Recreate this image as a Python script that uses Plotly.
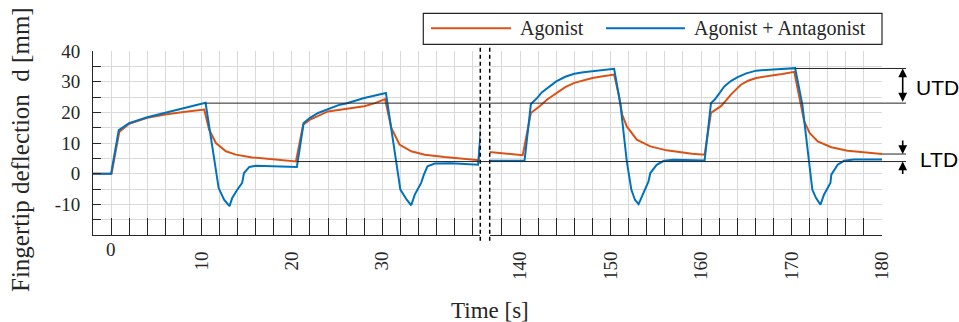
import plotly.graph_objects as go

# ---------------- data ----------------
agonist_t = [-2, 0.05, 0.9, 2, 4, 6, 8, 10.3, 10.85, 11.6, 12.7, 13.8, 15.6, 17.8, 20.45,
             21.25, 22, 24, 26, 28, 29.2, 30.3, 31, 31.9, 33.2, 34.7, 36.9, 39.1, 40.65, 41.0,
             136.5, 140.3, 141.2, 141.7, 142.3, 143, 144, 145, 146, 147, 148, 149, 150.4, 150.9,
             151.3, 151.8, 152.9, 154.4, 156.2, 159, 160.4, 161.1, 161.6, 162.2, 162.8, 163.3,
             164.4, 165.2, 166.1, 167, 168, 169, 170.3, 171.4, 172, 172.9, 174.4, 176.2, 180]
agonist_d = [0, 0, 13.6, 16.3, 18.2, 19.3, 20.1, 20.9, 14.3, 10.0, 7.3, 6.2, 5.3, 4.7, 4.0,
             16.0, 17.6, 20.3, 21.1, 22.0, 23.0, 24.3, 14.9, 9.5, 7.3, 6.2, 5.4, 4.9, 4.4, 15.5,
             7.1, 6.0, 19.8, 20.9, 22.3, 24.2, 26.3, 28.2, 29.6, 30.5, 31.2, 31.7, 32.3, 25.8,
             19.2, 15.4, 11.1, 8.9, 7.6, 6.5, 6.2, 19.8, 20.8, 22.0, 24.0, 25.8,
             29.0, 30.3, 31.2, 31.7, 32.1, 32.5, 33.2, 17.1, 13.3, 10.5, 8.6, 7.5, 6.4]

combined_t = [-2, 0, 0.85, 2, 4, 6, 8, 10.45, 11.9, 12.5, 13.1, 13.4, 13.9, 14.5, 14.7, 15.3,
              16, 20.55, 21.3, 22, 22.9, 24, 25.3, 26, 28, 30.4, 32, 32.7, 33.2, 33.6, 34.3,
              34.6, 35, 35.8, 37.6, 40.6, 40.95,
              136.5, 140.5, 141.2, 141.9, 142.4, 143, 143.5, 144, 145, 146, 147, 148, 150.4,
              151.1, 151.8, 152.3, 152.7, 153.1, 153.7, 154.2, 154.4, 155.1, 155.9, 157, 160.4,
              161.1, 161.5, 162.1, 162.6, 163.3, 164, 165, 166.1, 168, 170.4, 171.2, 171.8,
              172.3, 172.7, 173.2, 173.6, 174.3, 174.4, 175.1, 175.8, 176.9, 180]
combined_d = [0, 0, 14.2, 16.5, 18.4, 19.8, 21.2, 23.1, -4.7, -8.5, -10.6, -7.9, -5.5, -3.0, 0.2, 2.2,
              2.6, 2.2, 16.5, 18.2, 19.8, 21.1, 22.5, 22.9, 24.7, 26.3, -5.2, -8.5, -10.3, -6.8, -3.0,
              -0.3, 2.4, 3.3, 3.4, 2.9, 16.5,
              4.2, 4.2, 22.7, 24.7, 26.5, 27.9, 29.1, 30.1, 31.6, 32.6, 33.1, 33.4, 34.2,
              22.5, 4.0, -5.2, -8.5, -9.9, -5.8, -2.5, 0.2, 2.9, 4.2, 4.5, 4.3,
              23.0, 24.1, 26.4, 28.5, 30.2, 31.4, 32.7, 33.6, 34.0, 34.4, 22.5, 6.2,
              -5.2, -7.9, -10.1, -6.8, -3.0, -0.3, 2.9, 4.2, 4.6, 4.6]

series_names = ["Agonist", "Agonist + Antagonist"]

left_range = [-2, 40.84]
right_range = [136.65, 180]
left_ticks = [0, 10, 20, 30]
right_ticks = [140, 150, 160, 170, 180]
y_ticks = [-10, 0, 10, 20, 30, 40]
y_tick_text = ["-10", "0", "10", "20", "30", "40"]

# reference levels: (level, start time)
utd_lines = [(23.0, 10.45), (34.3, 170.4)]
ltd_lines = [(3.95, 20.55), (6.4, 180.0)]

# ---------------- styling / layout ----------------
W, H = 959, 322
OFF = 0                      # page offset of the figure (body margin removed below)
PL, PR, PT, PB = 93, 882, 51, 235   # plot area in page pixels
ML, MT = PL - OFF, PT - OFF
MR, MB = W - (PR - OFF), H - (PB - OFF)
ORANGE = "#D95319"
BLUE = "#0072BD"
GRID = "#d9d9d9"
INK = "#262626"
SERIF = "Liberation Serif"
SANS = "Liberation Sans"

def pxx(p):
    return (p - PL) / (PR - PL)

def pxy(p):
    return (PB - p) / (PB - PT)

dom_l = [0, pxx(480.3)]
dom_r = [pxx(489.7), 1]

def t2paper(t):
    if t <= left_range[1]:
        return dom_l[0] + (dom_l[1] - dom_l[0]) * (t - left_range[0]) / (left_range[1] - left_range[0])
    return dom_r[0] + (dom_r[1] - dom_r[0]) * (t - right_range[0]) / (right_range[1] - right_range[0])

def split(ts, ds):
    lt = [t for t in ts if t < 100]
    ld = [d for t, d in zip(ts, ds) if t < 100]
    rt = [t for t in ts if t >= 100]
    rd = [d for t, d in zip(ts, ds) if t >= 100]
    return lt, ld, rt, rd

fig = go.Figure()
for (ts, ds), col, name in [((agonist_t, agonist_d), ORANGE, series_names[0]),
                            ((combined_t, combined_d), BLUE, series_names[1])]:
    lt, ld, rt, rd = split(ts, ds)
    fig.add_trace(go.Scatter(x=lt, y=ld, xaxis="x", yaxis="y", mode="lines", name=name,
                             line=dict(color=col, width=2), showlegend=False))
    fig.add_trace(go.Scatter(x=rt, y=rd, xaxis="x2", yaxis="y", mode="lines", name=name,
                             line=dict(color=col, width=2), showlegend=False))

tickfont = dict(family=SERIF, size=19, color=INK)
xcommon = dict(
    tickmode="array", tickangle=-90, ticks="inside", ticklen=17, tickwidth=1, tickcolor=INK,
    showline=True, linecolor=INK, linewidth=1, showgrid=True, gridcolor=GRID, gridwidth=1,
    zeroline=False, tickfont=tickfont, ticklabelstandoff=8, anchor="y",
    minor=dict(tickmode="linear", tick0=0, dtick=2, ticks="inside", ticklen=17, tickwidth=1,
               tickcolor=INK, showgrid=True, gridcolor=GRID, gridwidth=1),
)

fig.update_layout(
    width=W, height=H, margin=dict(l=ML, r=MR, t=MT, b=MB),
    paper_bgcolor="white", plot_bgcolor="white", showlegend=False,
    xaxis=dict(domain=dom_l, range=left_range, tickvals=left_ticks,
               ticktext=["" if v == 0 else str(v) for v in left_ticks], **xcommon),
    xaxis2=dict(domain=dom_r, range=right_range, tickvals=right_ticks,
                ticktext=[str(v) for v in right_ticks], **xcommon),
    yaxis=dict(domain=[0, 1], range=[-20, 40], tickmode="array", tickvals=y_ticks,
               ticktext=y_tick_text, ticks="inside", ticklen=8, tickwidth=1, tickcolor=INK,
               showline=True, linecolor=INK, linewidth=1, showgrid=True, gridcolor=GRID,
               zeroline=False, tickfont=tickfont, ticklabelstandoff=8, anchor="x",
               minor=dict(tickmode="linear", tick0=0, dtick=5, ticks="inside", ticklen=8,
                          tickwidth=1, tickcolor=INK, showgrid=True, gridcolor=GRID)),
)

shapes = []
annotations = []

# broken-axis markers
for xb in (dom_l[1], dom_r[0]):
    shapes.append(dict(type="line", xref="paper", yref="paper", x0=xb, x1=xb,
                       y0=pxy(47.7), y1=pxy(242), line=dict(color="black", width=1.5, dash="4px,3px")))

# reference lines to the right margin
line_end = pxx(906)
for lvl, t0 in utd_lines + ltd_lines:
    shapes.append(dict(type="line", xref="paper", yref="y", x0=t2paper(t0), x1=line_end,
                       y0=lvl, y1=lvl, line=dict(color=INK, width=1)))

arrow_x = pxx(902.7)
# UTD double arrow
annotations.append(dict(xref="paper", yref="y", x=arrow_x, y=utd_lines[1][0], axref="pixel",
                        ayref="y", ax=0, ay=utd_lines[0][0], text="", showarrow=True,
                        arrowside="end+start", arrowhead=2, arrowsize=1.1, arrowwidth=1.6,
                        arrowcolor="black", standoff=0, startstandoff=0))
annotations.append(dict(xref="paper", yref="paper", x=pxx(914), y=pxy(87.5), text="UTD",
                        showarrow=False, xanchor="left", yanchor="middle",
                        font=dict(family=SANS, size=21, color="black")))
# LTD inward arrows
annotations.append(dict(xref="paper", yref="y", x=arrow_x, y=ltd_lines[1][0], ax=0, ay=-15,
                        text="", showarrow=True, arrowhead=2, arrowsize=1.1, arrowwidth=1.6,
                        arrowcolor="black", standoff=0))
annotations.append(dict(xref="paper", yref="y", x=arrow_x, y=ltd_lines[0][0], ax=0, ay=14,
                        text="", showarrow=True, arrowhead=2, arrowsize=1.1, arrowwidth=1.6,
                        arrowcolor="black", standoff=0))
annotations.append(dict(xref="paper", yref="paper", x=pxx(918), y=pxy(159.5), text="LTD",
                        showarrow=False, xanchor="left", yanchor="middle",
                        font=dict(family=SANS, size=21, color="black")))

# upright "0" tick label
annotations.append(dict(xref="x", yref="paper", x=0, y=pxy(249), text="0", showarrow=False,
                        xanchor="center", yanchor="middle", font=tickfont))

# axis titles
annotations.append(dict(xref="paper", yref="paper", x=pxx(490), y=pxy(310), text="Time [s]",
                        showarrow=False, xanchor="center", yanchor="middle",
                        font=dict(family=SERIF, size=23, color=INK)))
annotations.append(dict(xref="paper", yref="paper", x=pxx(20), y=pxy(150),
                        text="Fingertip deflection  d [mm]", textangle=-90, showarrow=False,
                        xanchor="center", yanchor="middle",
                        font=dict(family=SERIF, size=25, color=INK)))

# legend (box, sample lines, labels)
shapes.append(dict(type="rect", xref="paper", yref="paper", x0=pxx(423.3), x1=pxx(882),
                   y0=pxy(44.3), y1=pxy(13.3), line=dict(color=INK, width=1.2), fillcolor="white"))
leg_y = pxy(28.3)
for (x0, x1, xt), col, name in [((431, 511, 517.7), ORANGE, series_names[0]),
                                ((606, 685, 691.7), BLUE, series_names[1])]:
    shapes.append(dict(type="line", xref="paper", yref="paper", x0=pxx(x0), x1=pxx(x1),
                       y0=leg_y, y1=leg_y, line=dict(color=col, width=2)))
    annotations.append(dict(xref="paper", yref="paper", x=pxx(xt), y=leg_y, text=name,
                            showarrow=False, xanchor="left", yanchor="middle",
                            font=dict(family=SERIF, size=20, color=INK)))

fig.update_layout(shapes=shapes, annotations=annotations)
fig.write_html("out.html", config={"displayModeBar": False},
               post_script="document.body.style.margin='0px';document.body.style.overflow='hidden';")
